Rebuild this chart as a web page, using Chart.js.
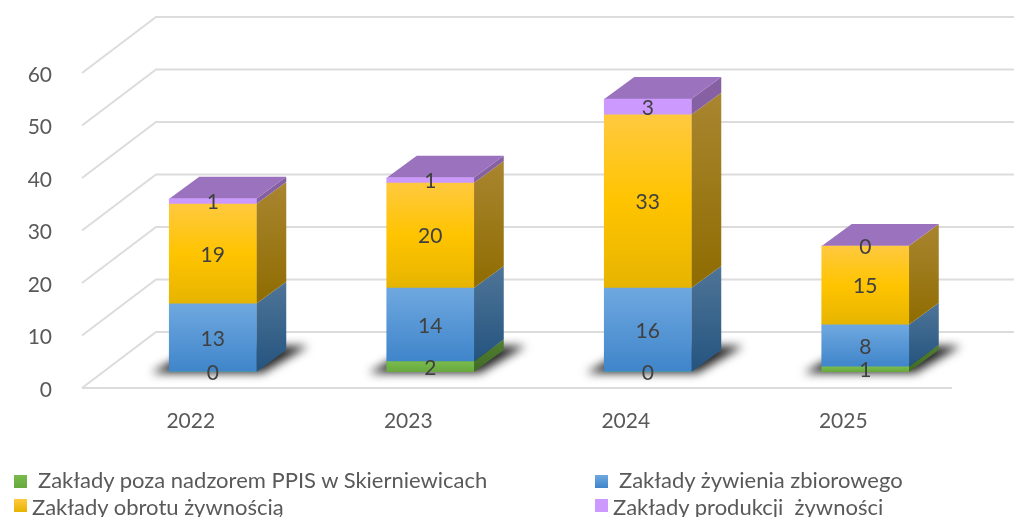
<!DOCTYPE html>
<html>
<head>
<meta charset="utf-8">
<script src="https://cdn.jsdelivr.net/npm/chart.js@4"></script>
<style>
    body { margin: 0; background: #fff; overflow: hidden; }
    #wrap { position: relative; width: 1014px; height: 517px; overflow: hidden; }
    .legendItem { position: absolute; font: 22px Lato, sans-serif; color: #595959; white-space: pre; line-height: 24px; }
    .legendSwatch { position: absolute; width: 13px; height: 13px; }
</style>
</head>
<body>
<div id="wrap">
    <canvas id="chart" width="1014" height="517"></canvas>
</div>
<script>
const YEARS = ["2022", "2023", "2024", "2025"]
const SERIES_NAMES = [
    "Zakłady poza nadzorem PPIS w Skierniewicach",
    "Zakłady żywienia zbiorowego",
    "Zakłady obrotu żywnością",
    "Zakłady produkcji  żywności"
]
const POZA_NADZOREM = [0, 2, 0, 1]
const ZYWIENIE = [13, 14, 16, 8]
const OBROT = [19, 20, 33, 15]
const PRODUKCJA = [1, 1, 3, 0]
const Y_TICKS = [0, 10, 20, 30, 40, 50, 60]

// front face gradient (top, bottom), side face gradient (top, bottom)
const FRONT_COLORS = [["#78bb4c", "#68a83e"], ["#6fa8e0", "#3f85ca"], ["#ffc93f", "#e6b400"], ["#cc99ff", "#cc99ff"]]
const SIDE_COLORS = [["#527f32", "#3f6a25"], ["#4f7598", "#24547f"], ["#a98630", "#8f6c00"], ["#8561a3", "#8561a3"]]
const TOP_COLOR = "#9b72bd"
const GRID_COLOR = "#dcdcdc"

// the picture is a fake 3D one, these are the offsets of the depth
const BAR_DX = 30, BAR_DY = -22
const WALL_DX = 74, WALL_DY = -56
const FRONT_DROP = 16, FRONT_SHIFT = 22

const allSeries = [POZA_NADZOREM, ZYWIENIE, OBROT, PRODUKCJA]

function segmentGradient(ctx, chart, d, i) {
    let yScale = chart.scales.y
    if (!yScale) return FRONT_COLORS[d][0]
    let start = 0
    for (let s = 0; s < d; s++) start += allSeries[s][i]
    let top = yScale.getPixelForValue(start + allSeries[d][i])
    let bottom = yScale.getPixelForValue(start)
    // scales have no pixels yet on the first pass
    if (!isFinite(top) || !isFinite(bottom)) return FRONT_COLORS[d][0]
    let g = ctx.createLinearGradient(0, top, 0, bottom + 0.01)
    g.addColorStop(0, FRONT_COLORS[d][0])
    if (d == 2) g.addColorStop(0.5, "#ffc400")
    g.addColorStop(1, FRONT_COLORS[d][1])
    return g
}

const wallsAndSides = {
    id: "wallsAndSides",
    beforeDatasetsDraw(chart) {
        let c = chart.ctx
        let y = chart.scales.y
        let left = chart.chartArea.left - FRONT_SHIFT
        let right = chart.chartArea.right - FRONT_SHIFT

        // walls
        c.save()
        c.strokeStyle = GRID_COLOR
        c.lineWidth = 2
        Y_TICKS.forEach((v) => {
            let py = y.getPixelForValue(v) + FRONT_DROP
            c.beginPath()
            c.moveTo(left, py)
            c.lineTo(left + WALL_DX, py + WALL_DY)
            c.lineTo(chart.width, py + WALL_DY)
            c.stroke()
            if (v == 0) {
                c.beginPath()
                c.moveTo(left, py)
                c.lineTo(right, py)
                c.stroke()
            }
        })
        c.restore()

        let bars = chart.getDatasetMeta(0).data

        // shadows on the floor
        bars.forEach((bar) => {
            let x0 = bar.x - bar.width / 2, x1 = bar.x + bar.width / 2
            let base = y.getPixelForValue(0)
            c.save()
            c.filter = "blur(5px)"
            c.fillStyle = "rgba(0,0,0,0.85)"
            c.beginPath()
            c.moveTo(x0 - 18, base + 1)
            c.lineTo(x1 + 6, base + 1)
            c.lineTo(x1 + 52, base - 26)
            c.lineTo(x0 + 30, base - 26)
            c.closePath()
            c.fill()
            c.restore()
        })

        // right side of every segment, then the lid
        YEARS.forEach((year, i) => {
            let total = 0
            allSeries.forEach((series, d) => {
                let value = series[i]
                if (value > 0) {
                    let bar = chart.getDatasetMeta(d).data[i]
                    let x1 = bar.x + bar.width / 2
                    let top = y.getPixelForValue(total + value)
                    let bottom = y.getPixelForValue(total)
                    let g = c.createLinearGradient(x1, top + BAR_DY, x1, bottom)
                    g.addColorStop(0, SIDE_COLORS[d][0])
                    g.addColorStop(1, SIDE_COLORS[d][1])
                    c.fillStyle = g
                    c.beginPath()
                    c.moveTo(x1, top)
                    c.lineTo(x1 + BAR_DX, top + BAR_DY)
                    c.lineTo(x1 + BAR_DX, bottom + BAR_DY)
                    c.lineTo(x1, bottom)
                    c.closePath()
                    c.fill()
                }
                total += value
            })
            let bar = bars[i]
            let x0 = bar.x - bar.width / 2, x1 = bar.x + bar.width / 2
            let top = y.getPixelForValue(total)
            c.fillStyle = TOP_COLOR
            c.beginPath()
            c.moveTo(x0, top)
            c.lineTo(x0 + BAR_DX, top + BAR_DY)
            c.lineTo(x1 + BAR_DX, top + BAR_DY)
            c.lineTo(x1, top)
            c.closePath()
            c.fill()
        })
    },
    afterDatasetsDraw(chart) {
        // value labels, also the zeros
        let c = chart.ctx
        let y = chart.scales.y
        c.save()
        c.font = "21px Lato, sans-serif"
        c.fillStyle = "#404040"
        c.textAlign = "center"
        c.textBaseline = "middle"
        YEARS.forEach((year, i) => {
            let total = 0
            allSeries.forEach((series, d) => {
                let bar = chart.getDatasetMeta(d).data[i]
                let mid = y.getPixelForValue(total + series[i] / 2)
                c.fillText(String(series[i]), bar.x, mid + 1)
                total += series[i]
            })
        })
        c.restore()
    }
}

const chartCanvas = document.getElementById("chart").getContext("2d")
const chart = new Chart(chartCanvas, {
    type: "bar",
    data: {
        labels: YEARS,
        datasets: allSeries.map((series, d) => ({
            label: SERIES_NAMES[d],
            data: series,
            backgroundColor: (context) => segmentGradient(chartCanvas, context.chart, d, context.dataIndex),
            borderWidth: 0,
            barThickness: 87
        }))
    },
    options: {
        responsive: false,
        animation: false,
        layout: { padding: { top: 57, right: 40, left: 0, bottom: 0 } },
        plugins: { legend: { display: false }, tooltip: { enabled: false } },
        scales: {
            x: {
                stacked: true,
                grid: { display: false },
                border: { display: false },
                afterFit: (scale) => { scale.height = 145 },
                ticks: {
                    color: "#595959",
                    font: { family: "Lato", size: 21 },
                    padding: 29,
                    labelOffset: -FRONT_SHIFT,
                    maxRotation: 0,
                    autoSkip: false
                }
            },
            y: {
                stacked: true,
                min: 0,
                max: 60,
                grid: { display: false },
                border: { display: false },
                afterFit: (scale) => { scale.width = 104 },
                afterBuildTicks: (scale) => { scale.ticks = Y_TICKS.map((v) => ({ value: v })) },
                ticks: {
                    color: "#595959",
                    font: { family: "Lato", size: 21 },
                    padding: 44,
                    labelOffset: FRONT_DROP + 2
                }
            }
        }
    },
    plugins: [wallsAndSides]
})

// legend sits in two uneven columns, so it is plain html
const LEGEND_SWATCH_X = [14, 595, 14, 595]
const LEGEND_SWATCH_Y = [475, 475, 499, 499]
const LEGEND_TEXT_X = [38, 619, 32, 613]
const LEGEND_TEXT_Y = [468, 468, 495, 495]

let wrap = document.getElementById("wrap")
SERIES_NAMES.forEach((name, d) => {
    let swatch = document.createElement("div")
    swatch.className = "legendSwatch"
    swatch.style.left = LEGEND_SWATCH_X[d] + "px"
    swatch.style.top = LEGEND_SWATCH_Y[d] + "px"
    swatch.style.background = `linear-gradient(${FRONT_COLORS[d][0]}, ${FRONT_COLORS[d][1]})`
    wrap.appendChild(swatch)

    let label = document.createElement("div")
    label.className = "legendItem"
    label.style.left = LEGEND_TEXT_X[d] + "px"
    label.style.top = LEGEND_TEXT_Y[d] + "px"
    label.textContent = name
    wrap.appendChild(label)
})
</script>
</body>
</html>
